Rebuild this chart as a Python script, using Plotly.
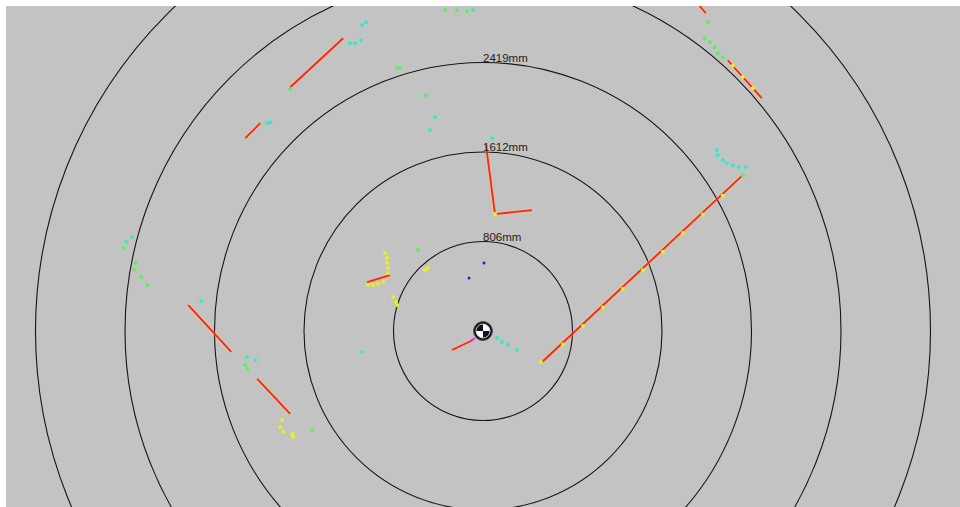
import numpy as np
import plotly.graph_objects as go

# ---- data (millimetres, sensor at origin) ----
ring_step_mm = 806.25
ring_count = 5
ring_labels = ["806mm", "1612mm", "2419mm"]

# fitted wall segments (polylines)
seg_x = [
    [-1737, -1260],
    [-2142, -2007],
    [1926, 2007],
    [2205, 2511],
    [2340, 522],
    [27, 108, 441],
    [-1044, -837],
    [-279, -90],
    [-2655, -2268],
    [-2034, -1737],
]
seg_y = [
    [2196, 2637],
    [1737, 1872],
    [2961, 2862],
    [2439, 2097],
    [1404, -288],
    [1674, 1053, 1089],
    [441, 504],
    [-171, -81],
    [234, -189],
    [-432, -747],
]

# raw scan points by colour class
cyan_x = [-1089, -1053, -1197, -1152, -1098, -1944, -1917, -432, -477, -90, 81,
          2106, 2115, 2160, 2196, 2250, 2304, 2367, 126, 171, 225, 306, -1089,
          -3159, -3213, -2538, -2124, -2052]
cyan_y = [2754, 2781, 2592, 2592, 2619, 1872, 1881, 1926, 1809, 2889, 1737,
          1629, 1584, 1539, 1512, 1494, 1476, 1476, -63, -99, -126, -171, -189,
          846, 801, 270, -234, -261]

green_x = [-342, -234, -144, -774, -747, -513, -1737, 2025, 1998, 2043, 2088, 2115,
           2160, 2340, -585, -3240, -3132, -3141, -3078, -3024, -2142, -2124, -1539]
green_y = [2889, 2889, 2880, 2367, 2367, 2124, 2178, 2781, 2637, 2601, 2556, 2502,
           2466, 1404, 729, 747, 612, 549, 486, 414, -306, -342, -891]

yellow_x = [-882, -864, -864, -855, -855, -1035, -990, -945, -900, -522, -495,
            -810, -783, -774, -1809, -1827, -1800, -1719, -1710, 522,
            2160, 1980, 1800, 1620, 1440, 1260, 1080, 900, 720,
            2250, 2340, 2430, 108]
yellow_y = [702, 657, 612, 567, 522, 414, 414, 423, 441, 549, 567,
            306, 261, 234, -801, -864, -909, -927, -954, -279,
            1218, 1050, 882, 714, 548, 380, 212, 45, -122,
            2389, 2288, 2187, 1053]

blue_x = [9, -126]
blue_y = [612, 477]

magenta_x = [-117, -72]
magenta_y = [-90, -63]

# ---- view geometry ----
mm_per_px = ring_step_mm / 89.5
W, H = 960, 507
ML, MT = 6, 6
cx_px, cy_px = 483, 331
x_range = [(ML - cx_px) * mm_per_px, (W - cx_px) * mm_per_px]
y_range = [(cy_px - H) * mm_per_px, (cy_px - MT) * mm_per_px]

fig = go.Figure()

# range rings
shapes = []
for k in range(1, ring_count + 1):
    r = ring_step_mm * k
    shapes.append(dict(type="circle", xref="x", yref="y", x0=-r, y0=-r, x1=r, y1=r,
                       line=dict(color="#151515", width=1.1), layer="below"))

# segments: halo + red line
for xs, ys in zip(seg_x, seg_y):
    fig.add_trace(go.Scatter(x=xs, y=ys, mode="lines",
                             line=dict(color="rgba(255,215,60,0.3)", width=4),
                             hoverinfo="skip", showlegend=False))
for xs, ys in zip(seg_x, seg_y):
    fig.add_trace(go.Scatter(x=xs, y=ys, mode="lines",
                             line=dict(color="#ff1f1f", width=1.8),
                             hoverinfo="skip", showlegend=False))

def pts(xs, ys, col, size=4):
    fig.add_trace(go.Scatter(x=xs, y=ys, mode="markers",
                             marker=dict(color=col, size=size, line=dict(width=0)),
                             hoverinfo="skip", showlegend=False))

pts(yellow_x, yellow_y, "#e6f21e")
pts(green_x, green_y, "#5cf060")
pts(cyan_x, cyan_y, "#3ee6c6")
pts(blue_x, blue_y, "#2020e0", 3)
fig.add_trace(go.Scatter(x=magenta_x, y=magenta_y, mode="lines",
                         line=dict(color="#e030e0", width=2),
                         hoverinfo="skip", showlegend=False))

# sensor emblem at origin
R_logo = 9.5 * mm_per_px
r_in = 7.0 * mm_per_px
t = np.linspace(0, 2 * np.pi, 100)
fig.add_trace(go.Scatter(x=R_logo * np.cos(t), y=R_logo * np.sin(t), mode="lines",
                         fill="toself", fillcolor="#111111",
                         line=dict(color="#555555", width=1),
                         hoverinfo="skip", showlegend=False))
quad_cols = ["#ffffff", "#101010", "#ffffff", "#101030"]  # TR, TL, BL, BR
for q, col in enumerate(quad_cols):
    a = np.linspace(q * np.pi / 2, (q + 1) * np.pi / 2, 20)
    qx = np.concatenate([[0], r_in * np.cos(a), [0]])
    qy = np.concatenate([[0], r_in * np.sin(a), [0]])
    fig.add_trace(go.Scatter(x=qx, y=qy, mode="lines", fill="toself", fillcolor=col,
                             line=dict(width=0, color=col),
                             hoverinfo="skip", showlegend=False))
fig.add_trace(go.Scatter(x=r_in * np.cos(t), y=r_in * np.sin(t), mode="lines",
                         line=dict(color="#cccccc", width=1),
                         hoverinfo="skip", showlegend=False))

annotations = []
for k, lab in enumerate(ring_labels, start=1):
    annotations.append(dict(x=0, y=ring_step_mm * k, xref="x", yref="y", text=lab,
                            showarrow=False, xanchor="left", yanchor="bottom",
                            xshift=-2, yshift=-3,
                            font=dict(family="Liberation Sans, Arial", size=11.5, color="#222222")))

fig.update_layout(
    width=W, height=H,
    margin=dict(l=ML, r=0, t=MT, b=0, pad=0),
    paper_bgcolor="#ffffff", plot_bgcolor="#c3c3c3",
    shapes=shapes, annotations=annotations,
    xaxis=dict(range=x_range, visible=False, showgrid=False, zeroline=False, fixedrange=True),
    yaxis=dict(range=y_range, visible=False, showgrid=False, zeroline=False, fixedrange=True),
    showlegend=False,
)
fig.write_html("out.html", config={"displayModeBar": False},
               post_script="document.body.style.margin='0px';document.body.style.overflow='hidden';")
